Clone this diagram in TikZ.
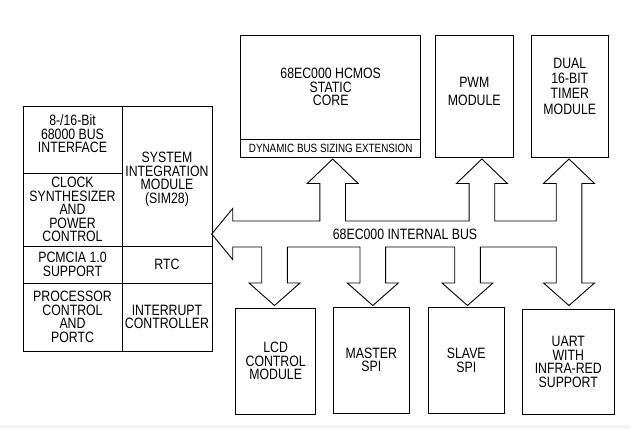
\documentclass[tikz,border=0pt]{standalone}
\usepackage{fontspec}
\setmainfont{Liberation Sans}[FakeStretch=0.82]
\usetikzlibrary{positioning}

% pieces of the bus outline, #1 = x of the arrow tip
\newcommand{\busup}[1]{-- ({#1-12.8},221) -- ({#1-12.8},183.5) -- ({#1-25.5},183.5) -- (#1,159) -- ({#1+25.5},183.5) -- ({#1+12.8},183.5) -- ({#1+12.8},221)}
\newcommand{\busdown}[1]{-- ({#1+12.8},247) -- ({#1+12.8},283) -- ({#1+25.5},283) -- (#1,305.5) -- ({#1-25.5},283) -- ({#1-12.8},283) -- ({#1-12.8},247)}

\begin{document}
\begin{tikzpicture}[
      x=1pt, y=-1pt,
      cell/.style={
        draw=black, line width=0.9pt, outer sep=0pt, inner sep=1pt,
        align=center, font=\fontsize{15}{13.5}\selectfont
      },
      smallcell/.style={cell, font=\fontsize{12}{12}\selectfont},
      bus/.style={draw=black, line width=0.9pt, line join=miter}
      ]

      \useasboundingbox (0,0) rectangle (630,429);
      \fill[black!4] (0,425) rectangle (630,429);

      % system integration block
      \node[cell, minimum width=99, minimum height=67, text depth=11pt] (busif) at (72.5,139.5) {8-/16-Bit\\68000 BUS\\INTERFACE};
      \node[cell, below=0pt of busif, minimum width=99, minimum height=73] (clk) {CLOCK\\SYNTHESIZER\\AND\\POWER\\CONTROL};
      \node[cell, below=0pt of clk, minimum width=99, minimum height=37] (pcmcia) {PCMCIA 1.0\\SUPPORT};
      \node[cell, below=0pt of pcmcia, minimum width=99, minimum height=68] (proc) {PROCESSOR\\CONTROL\\AND\\PORTC};
      \node[cell, anchor=north west, minimum width=90, minimum height=140, text height=58pt] (sim) at (busif.north east) {SYSTEM\\INTEGRATION\\MODULE\\(SIM28)};
      \node[cell, right=0pt of pcmcia, minimum width=90, minimum height=37] (rtc) {RTC};
      \node[cell, right=0pt of proc, minimum width=90, minimum height=68] (intr) {INTERRUPT\\CONTROLLER};

      % top row
      \node[cell, minimum width=180, minimum height=104] (core) at (330.7,87) {68EC000 HCMOS\\STATIC\\CORE};
      \node[smallcell, below=0pt of core, minimum width=180, minimum height=18] (dbs) {DYNAMIC BUS SIZING EXTENSION};
      \node[cell, font=\fontsize{15}{18}\selectfont, minimum width=78, minimum height=122, text depth=10pt] (pwm) at (474.3,96) {PWM\\MODULE};
      \node[cell, font=\fontsize{15}{15.3}\selectfont, minimum width=77, minimum height=122, text depth=20pt] (timer) at (569.8,96) {DUAL\\16-BIT\\TIMER\\MODULE};

      % bottom row
      \node[cell, minimum width=80, minimum height=106] (lcd) at (275.7,361.3) {LCD\\CONTROL\\MODULE};
      \node[cell, minimum width=76, minimum height=106] (master) at (371.3,360) {MASTER\\SPI};
      \node[cell, minimum width=76, minimum height=106] (slave) at (466.3,360.3) {SLAVE\\SPI};
      \node[cell, minimum width=92, minimum height=105] (uart) at (568.3,361.8) {UART\\WITH\\INFRA-RED\\SUPPORT};

      % internal bus
      \draw[bus] (211.7,234) -- (232.7,208.5) -- (232.7,221)
        \busup{332.7} \busup{481.9}
        -- (556.2,221) -- (556.2,183.5) -- (543.5,183.5) -- (569,159) -- (594.5,183.5) -- (581.8,183.5)
        -- (581.8,283) -- (594.5,283) -- (569,305.5) -- (543.5,283) -- (556.2,283) -- (556.2,247)
        \busdown{467.5} \busdown{372.8} \busdown{274.5}
        -- (232.7,247) -- (232.7,259.5) -- cycle;
      \node[font=\fontsize{15}{13.5}\selectfont] (busname) at (405,234) {68EC000 INTERNAL BUS};

\end{tikzpicture}
\end{document}
